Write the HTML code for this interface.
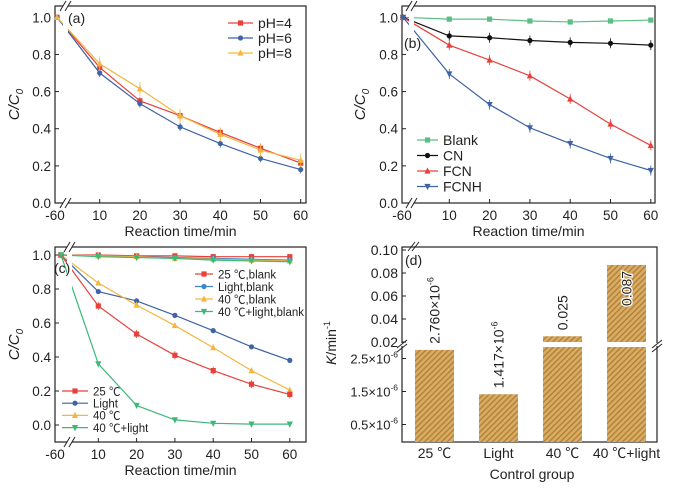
<!DOCTYPE html>
<html><head><meta charset="utf-8"><style>
body{margin:0;background:#fff}
svg{display:block;font-family:"Liberation Sans","Noto Sans CJK SC",sans-serif}
</style></head><body>
<svg id="c" width="679" height="488" viewBox="0 0 679 488">
<defs>
<pattern id="hatch" width="4" height="4" patternUnits="userSpaceOnUse" patternTransform="rotate(45)">
<rect width="4" height="4" fill="#d8ac62"/><rect width="1.3" height="4" fill="#b07e36"/>
</pattern>
</defs>
</svg>
<script>
const times=[-60,10,20,30,40,50,60];
// panel a
const aNames=["pH=4","pH=6","pH=8"];
const aPH4=[1.0,0.73,0.55,0.47,0.38,0.295,0.215];
const aPH6=[1.0,0.70,0.535,0.41,0.32,0.24,0.18];
const aPH8=[1.0,0.75,0.615,0.47,0.37,0.285,0.23];
// panel b
const bNames=["Blank","CN","FCN","FCNH"];
const bBlank=[1.0,0.99,0.99,0.98,0.975,0.98,0.985];
const bCN=[1.0,0.90,0.89,0.875,0.865,0.86,0.85];
const bFCN=[1.0,0.85,0.77,0.685,0.56,0.425,0.31];
const bFCNH=[1.0,0.695,0.53,0.405,0.32,0.24,0.175];
// panel c
const cNames=["25 ℃","Light","40 ℃","40 ℃+light"];
const cBlankNames=["25 ℃,blank","Light,blank","40 ℃,blank","40 ℃+light,blank"];
const c25=[1.0,0.70,0.535,0.41,0.32,0.24,0.18];
const cLight=[1.0,0.785,0.73,0.645,0.555,0.46,0.38];
const c40=[1.0,0.835,0.705,0.585,0.455,0.32,0.205];
const c40L=[1.0,0.36,0.115,0.03,0.01,0.005,0.005];
const c25b=[1.0,1.0,0.995,0.995,0.99,0.99,0.99];
const cLightb=[1.0,0.995,0.99,0.985,0.98,0.975,0.97];
const c40b=[1.0,0.995,0.99,0.98,0.975,0.97,0.965];
const c40Lb=[1.0,0.99,0.985,0.98,0.97,0.965,0.96];
// panel d
const dGroups=["25 ℃","Light","40 ℃","40 ℃+light"];
const dK=[2.760e-6,1.417e-6,0.025,0.087];
const dLabels=["2.760×10","1.417×10","0.025","0.087"];
const dUpperTicks=[0.02,0.04,0.06,0.08,0.10];
const dLowerTicks=[0.5e-6,1.5e-6,2.5e-6];
const xTicks=[-60,10,20,30,40,50,60];

const S=document.getElementById('c');
const NS="http://www.w3.org/2000/svg";
function el(t,a,p){const e=document.createElementNS(NS,t);for(const k in a)e.setAttribute(k,a[k]);(p||S).appendChild(e);return e;}
function txt(s,x,y,a,p){const e=el('text',Object.assign({x:x,y:y},a),p);e.textContent=s;return e;}

function marker(g,type,x,y,col,r){
  let m;
  if(type==='s')m=el('rect',{x:x-r,y:y-r,width:2*r,height:2*r,fill:col},g);
  else if(type==='o')m=el('circle',{cx:x,cy:y,r:r,fill:col},g);
  else if(type==='t')m=el('polygon',{points:`${x},${y-r-1} ${x-r-0.5},${y+r} ${x+r+0.5},${y+r}`,fill:col},g);
  else m=el('polygon',{points:`${x},${y+r+1} ${x-r-0.5},${y-r} ${x+r+0.5},${y-r}`,fill:col},g);
  
  
}

function linePanel(P){
  const g=el('g',{});
  
  
  const X=t=>t===-60?P.x0+P.ptOff:P.x10+(t-10)*P.k;
  const Y=v=>P.y0-(v-0)*P.ky;
  // frame
  el('rect',{x:P.x0,y:P.top,width:P.x1-P.x0,height:P.bot-P.top,fill:'none',stroke:'#222','stroke-width':1.2},g);
  // y ticks
  P.yt.forEach(v=>{const y=Y(v);el('line',{x1:P.x0,x2:P.x0+4,y1:y,y2:y,stroke:'#222'},g);
    const t=txt(v.toFixed(1),P.x0-4,y+5,{'font-size':13.5,'text-anchor':'end',fill:'#222'},g);
    });
  xTicks.forEach(t=>{const x=t===-60?P.x0:X(t);if(t!==-60)el('line',{x1:x,x2:x,y1:P.bot,y2:P.bot-4,stroke:'#222'},g);
    const e=txt(String(t),x,P.bot+17,{'font-size':13.5,'text-anchor':'middle',fill:'#222'},g);
    });
  // series
  P.series.forEach(s=>{
    const pts=s.v.map((v,i)=>[X(times[i]),Y(v)]);
    const pl=el('polyline',{points:pts.map(p=>p.join(',')).join(' '),fill:'none',stroke:s.c,'stroke-width':1.2},g);
    
    pts.forEach((p,i)=>{ if(s.err&&i>0){el('line',{x1:p[0],x2:p[0],y1:p[1]-s.err,y2:p[1]+s.err,stroke:s.c,'stroke-width':0.8},g);}
      marker(g,s.m,p[0],p[1],s.c,s.r||2.6);});
  });
  // break gap
  const bx=P.x0+P.ptOff+6;
  el('polygon',{points:`${bx},${P.top+1} ${bx+5},${P.top+1} ${bx+5},${P.bot-1} ${bx},${P.bot-1}`,fill:'#fff'},g);
  [P.top,P.bot].forEach(y=>{el('rect',{x:bx,y:y-3,width:5,height:6,fill:'#fff'},g);
    el('line',{x1:bx-3,y1:y+5,x2:bx+3,y2:y-5,stroke:'#222'},g);el('line',{x1:bx+2,y1:y+5,x2:bx+8,y2:y-5,stroke:'#222'},g);});
  // labels
  const yl=el('text',{x:0,y:0,transform:`translate(${P.yLabX},${(P.top+P.bot)/2}) rotate(-90)`,'font-size':15,'text-anchor':'middle','font-style':'italic',fill:'#222'},g);
  yl.innerHTML='C/C<tspan font-size="10" dy="4">0</tspan>';
  
  const xl=txt('Reaction time/min',(P.x0+P.x1)/2,P.bot+33,{'font-size':14,'text-anchor':'middle',fill:'#222'},g);
  
  const pl=txt(P.label,P.labX,P.labY,{'font-size':14,fill:'#222'},g);
  
  // legends
  P.legends.forEach(L=>L.items.forEach((it,i)=>{
    const y=L.y+i*L.dy;
    const lg=el('g',{},g);
    
    el('line',{x1:L.x,x2:L.x+L.w,y1:y,y2:y,stroke:it.c,'stroke-width':1.2},lg);
    marker(lg,it.m,L.x+L.w/2,y,it.c,2.6);
    txt(it.n,L.x+L.w+5,y+L.fs*0.37,{'font-size':L.fs,fill:'#222'},lg);
  }));
}

const R='#e8413b',B='#3f63a6',O='#f3b640',G='#5bbf85';
linePanel({name:'panel-a',x0:55,x1:306,top:6,bot:203,y0:203,ky:185.7,x10:99.7,k:4.02,ptOff:2,
  yt:[0,0.2,0.4,0.6,0.8,1.0],label:'(a)',labX:68,labY:23,yLabX:19,
  series:[{v:aPH4,c:R,m:'s',err:4},{v:aPH6,c:B,m:'o',err:4},{v:aPH8,c:O,m:'t',err:7}],
  legends:[{x:228,y:23,dy:15,w:25,fs:14,items:[{n:aNames[0],c:R,m:'s'},{n:aNames[1],c:B,m:'o'},{n:aNames[2],c:O,m:'t'}]}]});
linePanel({name:'panel-b',x0:402,x1:655,top:6,bot:203,y0:203,ky:185.7,x10:449.3,k:4.03,ptOff:1,
  yt:[0,0.2,0.4,0.6,0.8,1.0],label:'(b)',labX:404,labY:48,yLabX:365,
  series:[{v:bBlank,c:G,m:'s',err:1},{v:bCN,c:'#111',m:'o',err:5},{v:bFCN,c:R,m:'t',err:5},{v:bFCNH,c:B,m:'v',err:5}],
  legends:[{x:417,y:140,dy:15.5,w:21,fs:14,items:[{n:bNames[0],c:G,m:'s'},{n:bNames[1],c:'#111',m:'o'},{n:bNames[2],c:R,m:'t'},{n:bNames[3],c:B,m:'v'}]}]});
linePanel({name:'panel-c',x0:55,x1:306,top:247,bot:442,y0:425,ky:170,x10:98.3,k:3.83,ptOff:6,
  yt:[0,0.2,0.4,0.6,0.8,1.0],label:'(c)',labX:54,labY:273,yLabX:19,
  series:[{v:c25b,c:R,m:'s',err:2},{v:cLightb,c:'#3a86c8',m:'o',err:1},{v:c40b,c:O,m:'t',err:1},{v:c40Lb,c:'#3cb878',m:'v',err:1},
    {v:cLight,c:B,m:'o',err:0},{v:c40,c:O,m:'t',err:2},{v:c25,c:R,m:'s',err:4},{v:c40L,c:'#3cb878',m:'v',err:1}],
  legends:[{x:195,y:274,dy:12.5,w:18,fs:11.5,items:[{n:cBlankNames[0],c:R,m:'s'},{n:cBlankNames[1],c:'#3a86c8',m:'o'},{n:cBlankNames[2],c:O,m:'t'},{n:cBlankNames[3],c:'#3cb878',m:'v'}]},
    {x:62,y:391,dy:12.2,w:26,fs:11.5,items:[{n:cNames[0],c:R,m:'s'},{n:cNames[1],c:B,m:'o'},{n:cNames[2],c:O,m:'t'},{n:cNames[3],c:'#3cb878',m:'v'}]}]});

// panel d
(function(){
  const g=el('g',{});
  
  
  const x0=402,x1=657,top=247,bot=442,brk=345;
  const yLow=v=>441-v*33e6;         // lower segment (×10^-6)
  const yUp=v=>342-(v-0.02)*1150;   // upper segment
  const lowTop=347;
  el('rect',{x:x0,y:top,width:x1-x0,height:bot-top,fill:'none',stroke:'#222','stroke-width':1.2},g);
  const xc=i=>434.5+i*64;
  dK.forEach((v,i)=>{
    const bx=xc(i)-19.5,w=39;
    let r;
    if(v<1e-3){const y=yLow(v);r=el('rect',{x:bx,y:y,width:w,height:bot-y,fill:'url(#hatch)'},g);}
    else{r=el('rect',{x:bx,y:lowTop,width:w,height:bot-lowTop,fill:'url(#hatch)'},g);
      const y=yUp(v);el('rect',{x:bx,y:y,width:w,height:342-y,fill:'url(#hatch)'},g);}
    
    const top_=v<1e-3?yLow(v):yUp(v);
    const inside=i===3;
    const ly=inside?top_+6:top_-6;
    const t=el('text',{x:0,y:0,transform:`translate(${xc(i)+5},${ly}) rotate(-90)`,'font-size':14,'text-anchor':inside?'end':'start',fill:'#222'},g);
    if(v<1e-3)t.innerHTML=dLabels[i]+'<tspan font-size="9" dy="-6">-6</tspan>';else t.textContent=dLabels[i];
    if(inside){t.setAttribute('stroke','#fff');t.setAttribute('stroke-width','2.5');t.setAttribute('paint-order','stroke');}
    
    const xl=txt(dGroups[i],xc(i),458,{'font-size':14,'text-anchor':'middle',fill:'#222'},g);
    
  });
  // break line
  el('rect',{x:x0-6,y:brk-2,width:x1-x0+14,height:3,fill:'#fff'},g);
  [x0,x1].forEach(x=>{el('line',{x1:x-5,y1:brk+3,x2:x+5,y2:brk-5,stroke:'#222'},g);el('line',{x1:x-5,y1:brk+7,x2:x+5,y2:brk-1,stroke:'#222'},g);});
  [[x0+10,top],[x0+14,top]].forEach(p=>el('line',{x1:p[0]-4,y1:p[1]+4,x2:p[0]+3,y2:p[1]-5,stroke:'#222'},g));
  dUpperTicks.forEach(v=>{const y=yUp(v);el('line',{x1:x0,x2:x0+4,y1:y,y2:y,stroke:'#222'},g);
    const t=txt(v.toFixed(2),x0-4,y+5,{'font-size':14,'text-anchor':'end',fill:'#222'},g);
    });
  dLowerTicks.forEach(v=>{const y=yLow(v);el('line',{x1:x0,x2:x0+4,y1:y,y2:y,stroke:'#222'},g);
    const t=el('text',{x:x0-4,y:y+5,'font-size':13,'text-anchor':'end',fill:'#222'},g);
    t.innerHTML=(v*1e6).toFixed(1)+'×10<tspan font-size="8.5" dy="-6">-6</tspan>';
    });
  const pl=txt('(d)',405,265,{'font-size':14,fill:'#222'},g);
  
  const yl=el('text',{x:0,y:0,transform:'translate(336,343) rotate(-90)','font-size':14,'text-anchor':'middle',fill:'#222'},g);
  yl.innerHTML='<tspan font-style="italic">K</tspan>/min<tspan font-size="9" dy="-6">-1</tspan>';
  
  const xt=txt('Control group',532,479,{'font-size':14,'text-anchor':'middle',fill:'#222'},g);
  
})();
</script>
</body></html>
